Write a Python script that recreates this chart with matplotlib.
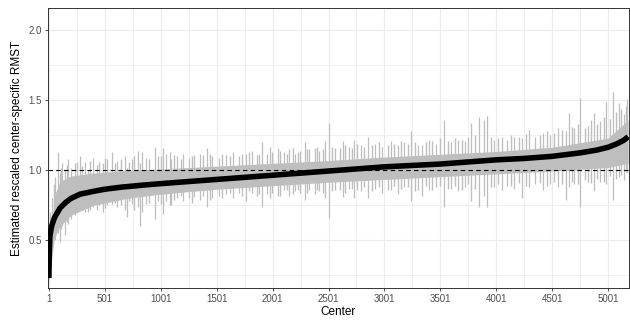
import numpy as np
import matplotlib
matplotlib.use("Agg")
import matplotlib.pyplot as plt

# estimated center-specific RMST (sorted)
est_x = [1, 5, 10, 25, 50, 100, 150, 200, 280, 400, 500, 650, 850, 1000, 1250, 1500,
         1750, 2000, 2250, 2500, 2750, 3000, 3250, 3500, 3750, 4000, 4250, 4500, 4750,
         4900, 5000, 5080, 5140, 5180]
est_y = [0.23, 0.42, 0.53, 0.60, 0.66, 0.73, 0.77, 0.80, 0.83, 0.85, 0.865, 0.88, 0.895,
         0.905, 0.92, 0.935, 0.95, 0.965, 0.98, 0.995, 1.01, 1.025, 1.035, 1.045, 1.06,
         1.075, 1.085, 1.10, 1.125, 1.145, 1.165, 1.19, 1.215, 1.24]

# dense core of the grey interval bars
band_x = [1, 50, 100, 200, 400, 700, 1000, 1500, 2000, 2500, 3000, 3500, 4000, 4500, 5000, 5180]
band_lo = [0.20, 0.52, 0.60, 0.68, 0.75, 0.80, 0.83, 0.865, 0.89, 0.915, 0.935, 0.955,
           0.975, 0.995, 1.02, 1.05]
band_hi = [0.38, 0.82, 0.92, 0.96, 0.98, 1.00, 1.01, 1.03, 1.05, 1.07, 1.095, 1.115, 1.135,
           1.165, 1.23, 1.36]

# wide interval bars (center, lower, upper)
bar_c = [30, 60, 80, 98, 120, 143, 170, 200, 230, 277, 320, 348, 393, 430, 482, 520, 563,
         610, 680, 697, 740, 795, 813, 831, 870, 947, 980, 1018, 1050, 1081, 1090, 1150,
         1200, 1250, 1300, 1350, 1412, 1460, 1520, 1580, 1650, 1700, 1760, 1820, 1860,
         1903, 1950, 1975, 2046, 2100, 2150, 2200, 2250, 2287, 2330, 2376, 2420, 2466,
         2501, 2560, 2626, 2680, 2733, 2790, 2858, 2920, 2980, 3063, 3120, 3180, 3242,
         3300, 3340, 3400, 3460, 3537, 3600, 3660, 3720, 3778, 3850, 3895, 3921, 3980,
         4050, 4100, 4163, 4234, 4296, 4350, 4420, 4480, 4550, 4626, 4653, 4700, 4751,
         4820, 4876, 4930, 4984, 5046, 5100, 5140, 5170]
bar_lo = [0.45, 0.50, 0.55, 0.49, 0.60, 0.54, 0.62, 0.65, 0.68, 0.72, 0.70, 0.70, 0.74,
          0.72, 0.70, 0.75, 0.76, 0.74, 0.72, 0.67, 0.76, 0.74, 0.60, 0.70, 0.76, 0.65,
          0.78, 0.69, 0.78, 0.75, 0.75, 0.80, 0.78, 0.80, 0.81, 0.79, 0.74, 0.80, 0.82,
          0.83, 0.80, 0.84, 0.78, 0.84, 0.82, 0.74, 0.83, 0.80, 0.82, 0.86, 0.82, 0.85,
          0.84, 0.79, 0.86, 0.83, 0.85, 0.80, 0.66, 0.86, 0.81, 0.87, 0.80, 0.85, 0.80,
          0.87, 0.84, 0.86, 0.83, 0.88, 0.78, 0.86, 0.82, 0.86, 0.88, 0.74, 0.87, 0.85,
          0.88, 0.78, 0.74, 0.82, 0.74, 0.88, 0.86, 0.89, 0.87, 0.80, 0.88, 0.90, 0.86,
          0.90, 0.88, 0.79, 0.88, 0.90, 0.74, 0.92, 0.85, 0.92, 0.90, 0.79, 0.95, 0.93, 0.98]
bar_hi = [0.80, 0.95, 1.13, 0.98, 1.05, 1.00, 1.08, 1.02, 1.05, 1.10, 1.06, 1.00, 1.09,
          1.04, 1.05, 1.08, 1.13, 1.07, 1.10, 1.02, 1.08, 1.135, 1.05, 1.13, 1.09, 1.17,
          1.10, 1.16, 1.12, 1.13, 1.08, 1.10, 1.12, 1.09, 1.11, 1.12, 1.16, 1.10, 1.09,
          1.11, 1.13, 1.10, 1.12, 1.14, 1.11, 1.20, 1.12, 1.17, 1.16, 1.13, 1.15, 1.12,
          1.14, 1.20, 1.15, 1.16, 1.14, 1.21, 1.34, 1.16, 1.21, 1.17, 1.22, 1.18, 1.24,
          1.19, 1.17, 1.21, 1.18, 1.20, 1.28, 1.18, 1.18, 1.22, 1.19, 1.36, 1.20, 1.22,
          1.21, 1.34, 1.38, 1.36, 1.39, 1.22, 1.24, 1.22, 1.24, 1.23, 1.29, 1.24, 1.27,
          1.25, 1.30, 1.28, 1.41, 1.30, 1.52, 1.32, 1.41, 1.35, 1.49, 1.56, 1.48, 1.40, 1.51]

# moderate bars that give the band its ragged texture
tex_c = [15, 45, 110, 160, 250, 300, 370, 450, 500, 590, 650, 720, 760, 900, 1000, 1120,
         1180, 1280, 1380, 1440, 1550, 1620, 1730, 1790, 1880, 2000, 2070, 2130, 2180,
         2230, 2310, 2400, 2450, 2530, 2600, 2650, 2710, 2760, 2820, 2890, 2950, 3030,
         3090, 3150, 3210, 3270, 3370, 3430, 3500, 3570, 3630, 3690, 3750, 3810, 3950,
         4020, 4130, 4200, 4270, 4390, 4450, 4520, 4590, 4680, 4730, 4790, 4850, 4900,
         4960, 5020, 5070, 5120, 5160]
tex_lo = [0.40, 0.52, 0.58, 0.63, 0.70, 0.73, 0.72, 0.75, 0.73, 0.77, 0.75, 0.78, 0.72,
          0.77, 0.76, 0.79, 0.82, 0.77, 0.82, 0.79, 0.80, 0.84, 0.82, 0.85, 0.83, 0.84,
          0.82, 0.86, 0.83, 0.86, 0.84, 0.86, 0.84, 0.85, 0.86, 0.84, 0.87, 0.86, 0.88,
          0.85, 0.88, 0.86, 0.89, 0.87, 0.88, 0.85, 0.89, 0.86, 0.89, 0.87, 0.89, 0.86,
          0.90, 0.87, 0.88, 0.90, 0.89, 0.91, 0.89, 0.91, 0.89, 0.92, 0.90, 0.92, 0.90,
          0.93, 0.91, 0.94, 0.92, 0.96, 0.94, 0.97, 0.99]
tex_hi = [0.70, 0.90, 1.02, 1.04, 1.06, 1.03, 1.07, 1.06, 1.09, 1.05, 1.08, 1.06, 1.10,
          1.08, 1.10, 1.11, 1.08, 1.10, 1.11, 1.12, 1.12, 1.10, 1.12, 1.13, 1.12, 1.13,
          1.14, 1.12, 1.16, 1.13, 1.15, 1.17, 1.15, 1.17, 1.16, 1.18, 1.16, 1.19, 1.17,
          1.18, 1.20, 1.18, 1.19, 1.21, 1.19, 1.20, 1.20, 1.21, 1.23, 1.21, 1.23, 1.22,
          1.24, 1.25, 1.24, 1.23, 1.25, 1.24, 1.26, 1.25, 1.28, 1.27, 1.29, 1.31, 1.33,
          1.30, 1.36, 1.33, 1.38, 1.37, 1.42, 1.44, 1.46]

x_ticks = [1, 501, 1001, 1501, 2001, 2501, 3001, 3501, 4001, 4501, 5001]
y_ticks = [0.5, 1.0, 1.5, 2.0]

plt.rcParams['font.family'] = ['Liberation Sans', 'DejaVu Sans']

fig = plt.figure(figsize=(6.3, 3.22), dpi=100)
ax = fig.add_axes([0.076, 0.106, 0.922, 0.869])

grey = '#bebebe'
ax.fill_between(band_x, band_lo, band_hi, color=grey, lw=0, zorder=2)
ax.vlines(tex_c, tex_lo, tex_hi, color=grey, lw=1.0, zorder=2)
ax.vlines(bar_c, bar_lo, bar_hi, color=grey, lw=0.9, zorder=2)
ax.plot(est_x, est_y, color='black', lw=4.0, solid_capstyle='butt', zorder=3)
ax.axhline(1.0, color='black', lw=0.8, ls=(0, (4, 3)), zorder=4)

ax.set_xlim(-8, 5185)
ax.set_ylim(0.16, 2.16)
ax.set_xticks(x_ticks)
ax.set_xticklabels([str(t) for t in x_ticks])
ax.set_yticks(y_ticks)
ax.set_yticklabels(['0.5', '1.0', '1.5', '2.0'])
ax.set_xticks([251, 751, 1251, 1751, 2251, 2751, 3251, 3751, 4251, 4751], minor=True)
ax.set_yticks([0.25, 0.75, 1.25, 1.75], minor=True)

ax.grid(which='major', color='#ebebeb', lw=0.8, zorder=0)
ax.grid(which='minor', color='#ebebeb', lw=0.5, zorder=0)
ax.set_axisbelow(True)
ax.tick_params(which='major', length=2.5, width=0.6, color='#333333',
               labelsize=7, labelcolor='#4d4d4d', pad=2)
ax.tick_params(which='minor', length=0)
for s in ax.spines.values():
    s.set_color('#333333')
    s.set_linewidth(0.7)

ax.set_xlabel('Center', fontsize=8.5, labelpad=1)
ax.set_ylabel('Estimated rescaled center-specific RMST', fontsize=8.5, labelpad=4)

fig.savefig('out.png', dpi=100)
